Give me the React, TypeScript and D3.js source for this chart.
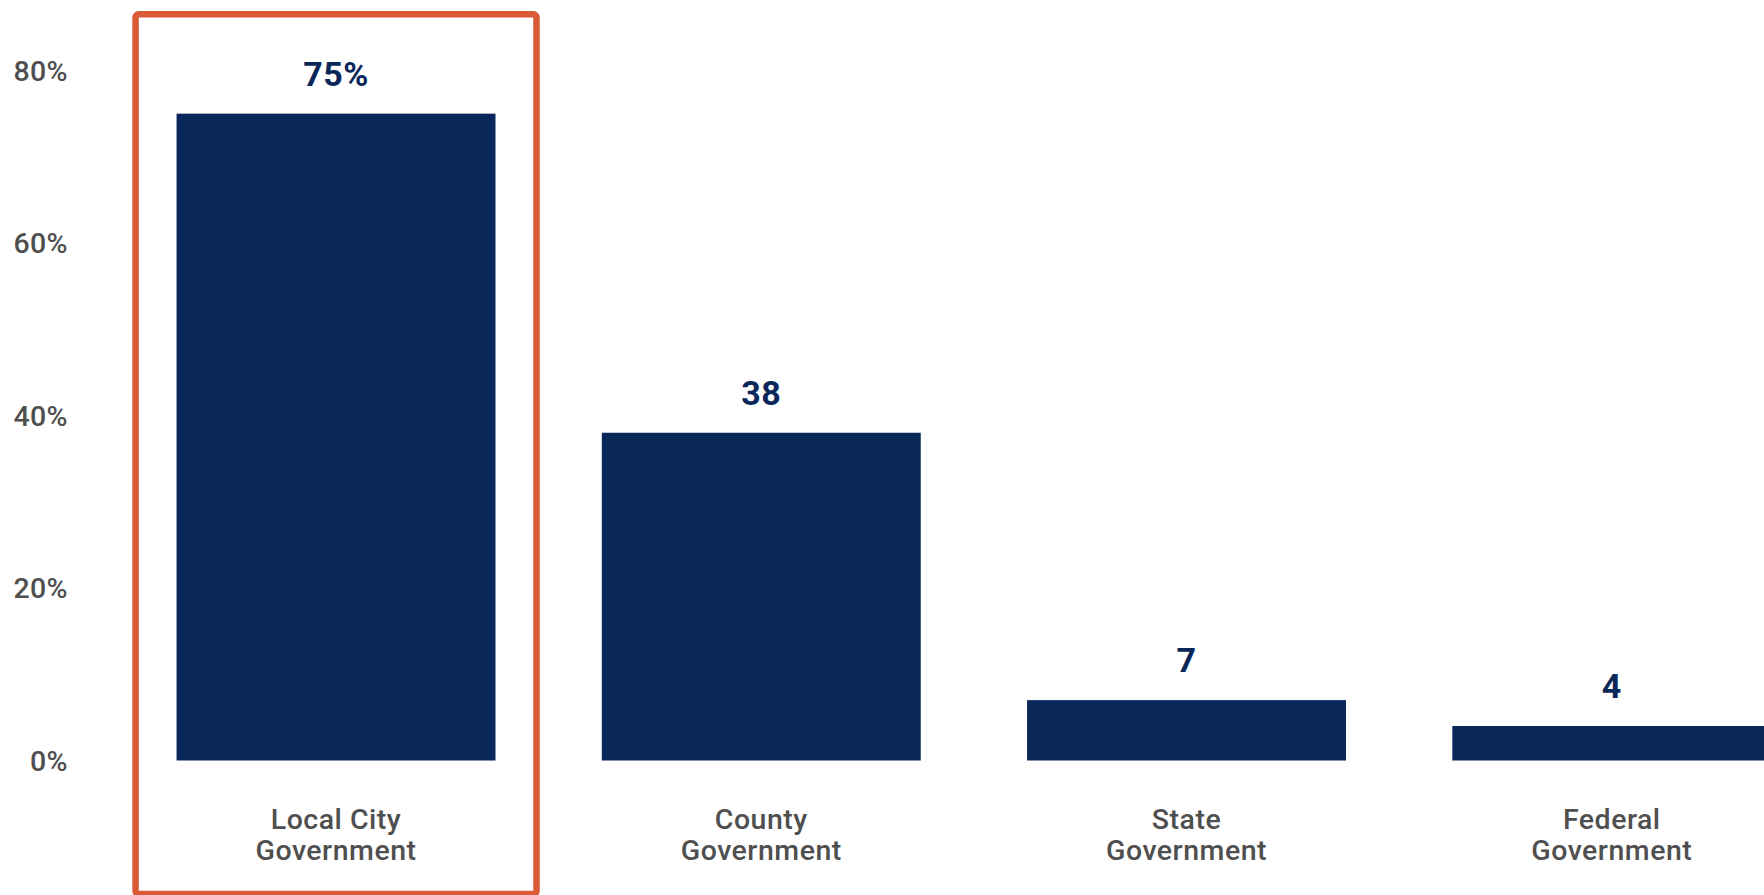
import React from "react";
import * as d3 from "d3";

const categories: string[][] = [
  ["Local City", "Government"],
  ["County", "Government"],
  ["State", "Government"],
  ["Federal", "Government"],
];
const values: number[] = [75, 38, 7, 4];
const valueLabels: string[] = ["75%", "38", "7", "4"];
const yTicks: number[] = [0, 20, 40, 60, 80];

const W = 1764;
const H = 895;
const NAVY = "#0a275a";
const ORANGE = "#d95b35";
const GRAY = "#4f4f4f";
const FONT = "Roboto, 'Noto Sans', sans-serif";

export default function App() {
  React.useEffect(() => {
    document.body.style.margin = "0";
  }, []);
  const ids = categories.map((_, i) => String(i));
  const x = d3
    .scaleBand<string>()
    .domain(ids)
    .range([123.4, 1824.4])
    .paddingInner(0.25)
    .paddingOuter(0.125);
  const y = d3.scaleLinear().domain([0, 80]).range([760.5, 70.5]);
  const bw = x.bandwidth();
  const bx0 = x("0") as number;

  return (
    <svg width={W} height={H} style={{ display: "block", position: "absolute", left: 0, top: 0 }}>
      <rect x={0} y={0} width={W} height={H} fill="#fff" />
      {yTicks.map((t) => (
        <text
          key={t}
          x={68}
          y={y(t)}
          dy="0.36em"
          textAnchor="end"
          fontFamily={FONT}
          fontWeight={500}
          fontSize={28.5}
          letterSpacing={0.4}
          fill={GRAY}
        >
          {t}%
        </text>
      ))}
      {values.map((v, i) => {
        const xi = x(String(i)) as number;
        return (
          <g key={i}>
            <rect x={xi} y={y(v)} width={bw} height={y(0) - y(v)} fill={NAVY} />
            <text
              x={xi + bw / 2}
              y={y(v) - 28}
              textAnchor="middle"
              fontFamily={FONT}
              fontWeight={700}
              fontSize={34}
              letterSpacing={0.4}
              fill={NAVY}
            >
              {valueLabels[i]}
            </text>
            {categories[i].map((line, j) => (
              <text
                key={j}
                x={xi + bw / 2}
                y={828.5 + j * 31.5}
                textAnchor="middle"
                fontFamily={FONT}
                fontWeight={500}
                fontSize={28.5}
                letterSpacing={0.5}
                fill={GRAY}
              >
                {line}
              </text>
            ))}
          </g>
        );
      })}
      <rect
        x={bx0 - 41}
        y={14.3}
        width={bw + 82}
        height={894 - 14.3}
        rx={3}
        ry={3}
        fill="none"
        stroke={ORANGE}
        strokeWidth={6.5}
      />
    </svg>
  );
}
